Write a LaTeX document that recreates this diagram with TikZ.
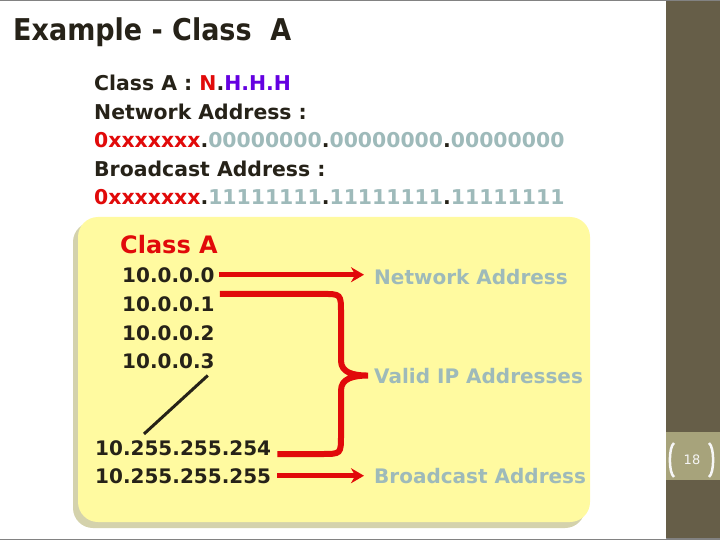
\documentclass[tikz,border=0pt]{standalone}
\usepackage{fontspec}
\setmainfont{DejaVu Sans}
\newfontfamily\titlefont{DejaVu Sans Condensed}
\usetikzlibrary{arrows.meta,positioning,calc}
\definecolor{txtdark}{RGB}{38,34,24}
\definecolor{netred}{RGB}{225,10,10}
\definecolor{hostpur}{RGB}{100,0,225}
\definecolor{bitgray}{RGB}{158,186,186}
\definecolor{boxyel}{RGB}{255,250,160}
\definecolor{boxshd}{RGB}{212,210,172}
\definecolor{bandcol}{RGB}{102,94,72}
\definecolor{pagecol}{RGB}{167,163,123}
\definecolor{framecol}{RGB}{130,130,130}
\pgfdeclareradialshading{slideglow}{\pgfpoint{0bp}{0bp}}{%
  color(0bp)=(white); color(36bp)=(white); color(50bp)=(black!7); color(72bp)=(black!13)}

\begin{document}
\begin{tikzpicture}[
    x=1pt, y=-1pt,
    >=Stealth,
    txtline/.style={font=\fontsize{20.4}{24}\selectfont\bfseries, color=txtdark,
                    anchor=base west, inner sep=2pt},
    ipaddr/.style={txtline, font=\fontsize{20}{24}\selectfont\bfseries},
    addrlbl/.style={font=\fontsize{20}{24}\selectfont\bfseries, color=bitgray,
                    anchor=base west, inner sep=2pt},
    arr/.style={line width=5pt, color=netred,
                -{Stealth[length=13pt,width=15pt]}},
    redbrace/.style={line width=6pt, color=netred},
    slash/.style={line width=3pt, color=txtdark},
]
\useasboundingbox (0,0) rectangle (720,540);

% ============ SLIDE BACKGROUND ============
\fill[framecol] (0,0) rectangle (720,540);
\shade[shading=slideglow] (0,1.5) rectangle (666,538);
\fill[bandcol] (666,1.5) rectangle (720,538);
\fill[pagecol] (666,432) rectangle (720,480);
\node[font=\fontsize{13}{15}\selectfont, color=white!92!gray] (pgno) at (692,460) {18};
\draw[white!94!gray, line width=2.5pt] (674,443) .. controls (668.5,447) and (668.5,473) .. (674,477);
\draw[white!94!gray, line width=2.5pt] (709,443) .. controls (714.5,447) and (714.5,473) .. (709,477);

% ============ TITLE ============
\node[anchor=base west, inner sep=0pt, color=txtdark,
      font=\titlefont\bfseries\fontsize{30}{36}\selectfont] (title) at (13,41) {Example - Class~ A};

% ============ CLASS A MASK ============
\node[txtline] (l1) at (92,91) {Class A : \textcolor{netred}{N}.\textcolor{hostpur}{H.H.H}};
\node[txtline] (l2) at (92,119.5) {Network Address :};
\node[txtline] (l3) at (92,148) {\textcolor{netred}{0xxxxxxx}.\textcolor{bitgray}{00000000}.\textcolor{bitgray}{00000000}.\textcolor{bitgray}{00000000}};
\node[txtline] (l4) at (92,176.5) {Broadcast Address :};
\node[txtline] (l5) at (92,205) {\textcolor{netred}{0xxxxxxx}.\textcolor{bitgray}{11111111}.\textcolor{bitgray}{11111111}.\textcolor{bitgray}{11111111}};

% ============ YELLOW PANEL ============
\fill[boxshd, rounded corners=20pt] (73,222) rectangle (585,528);
\fill[boxyel, rounded corners=20pt] (78,217) rectangle (590,522);

\node[font=\fontsize{24}{28}\selectfont\bfseries, color=netred, anchor=base west, inner sep=2pt]
  (clsA) at (118,253) {Class A};

% addresses
\node[ipaddr] (n0) at (120,282) {10.0.0.0};
\node[ipaddr] (n1) at (120,311) {10.0.0.1};
\node[ipaddr] (n2) at (120,340) {10.0.0.2};
\node[ipaddr] (n3) at (120,368) {10.0.0.3};
\node[ipaddr] (n254) at (93,455) {10.255.255.254};
\node[ipaddr] (n255) at (93,483) {10.255.255.255};

% meaning of each range
\node[addrlbl] (lnet) at (372,284) {Network Address};
\node[addrlbl] (lvalid) at (372,383) {Valid IP Addresses};
\node[addrlbl] (lbcast) at (372,483) {Broadcast Address};

% ============ ARROWS + BRACE ============
\draw[arr, shorten <=2pt, shorten >=8pt] (n0.east) -- (n0.east -| lnet.west);
\draw[arr, shorten <=4pt, shorten >=8pt] (n255.east) -- (n255.east -| lbcast.west);

\coordinate (btip) at ($(lvalid.west)+(-4,0)$);
\coordinate (bx) at ($(btip)+(-27,0)$);
\draw[redbrace] ([xshift=3pt]n1.north east) -- ($(bx|-n1.north east)+(-19,0)$)
  .. controls (bx|-n1.north east) .. ($(bx|-n1.north east)+(0,19)$)
  -- ($(bx)+(0,-15)$)
  .. controls ($(bx)+(0,-3)$) and ($(btip)+(-15,0)$) .. (btip)
  .. controls ($(btip)+(-15,0)$) and ($(bx)+(0,3)$) .. ($(bx)+(0,15)$)
  -- ($(bx|-n254.base east)+(0,-20)$)
  .. controls ($(bx|-n254.base east)+(0,-1)$) .. ($(bx|-n254.base east)+(-19,-1)$)
  -- ([xshift=4pt,yshift=1pt]n254.base east);

% the skipped range
\draw[slash] ($(n3.south east)+(-9,5)$) -- ($(n254.north west)+(51,-4)$);

\end{tikzpicture}
\end{document}
